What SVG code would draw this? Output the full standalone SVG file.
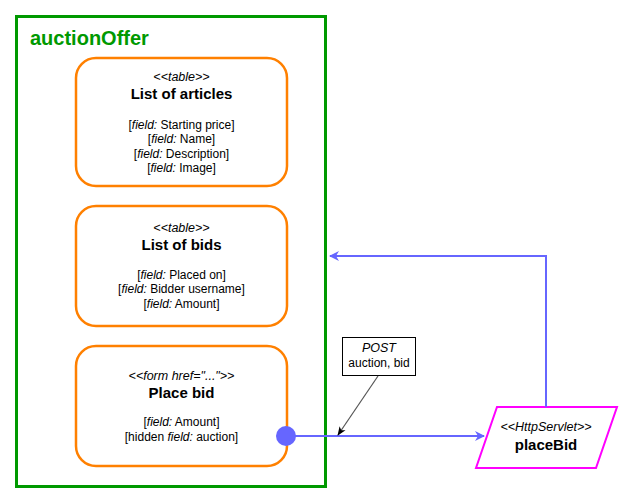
<svg xmlns="http://www.w3.org/2000/svg" width="633" height="503" viewBox="0 0 633 503">
<style>
text{font-family:"Liberation Sans",Arial,sans-serif;fill:#000;text-anchor:middle}
.st{font-size:12.5px;font-style:italic}
.ti{font-size:15px;font-weight:bold}
.f{font-size:12px}
.box{fill:#fff;stroke:#FF8000;stroke-width:2.5}
.flow{fill:none;stroke:#6666FF;stroke-width:2}
</style>
<defs>
<marker id="ab" viewBox="0 0 10 10" refX="9" refY="5" markerWidth="10" markerHeight="10" markerUnits="userSpaceOnUse" orient="auto">
<path d="M0,0 L10,5 L0,10 L3,5 Z" fill="#6666FF"/>
</marker>
<marker id="ak" viewBox="0 0 10 10" refX="9" refY="5" markerWidth="9" markerHeight="9" markerUnits="userSpaceOnUse" orient="auto">
<path d="M0,1 L10,5 L0,9 L2.5,5 Z" fill="#000"/>
</marker>
</defs>
<rect width="633" height="503" fill="#fff"/>
<g id="auctionOffer">
<rect x="16.5" y="16.5" width="309" height="470" fill="#fff" stroke="#009900" stroke-width="3"/>
<text x="30" y="45" style="font-size:20px;font-weight:bold;fill:#009900;text-anchor:start">auctionOffer</text>
</g>
<g id="listArticles">
<rect class="box" x="76" y="58" width="211" height="128" rx="20"/>
<text class="st" x="181.5" y="81">&lt;&lt;table&gt;&gt;</text>
<text class="ti" x="181.5" y="99">List of articles</text>
<text class="f" x="181.5" y="129">[<tspan font-style="italic">field:</tspan> Starting price]</text>
<text class="f" x="181.5" y="143">[<tspan font-style="italic">field:</tspan> Name]</text>
<text class="f" x="181.5" y="158">[<tspan font-style="italic">field:</tspan> Description]</text>
<text class="f" x="181.5" y="172">[<tspan font-style="italic">field:</tspan> Image]</text>
</g>
<g id="listBids">
<rect class="box" x="76" y="206" width="211" height="120" rx="20"/>
<text class="st" x="181.5" y="232">&lt;&lt;table&gt;&gt;</text>
<text class="ti" x="181.5" y="250">List of bids</text>
<text class="f" x="181.5" y="279">[<tspan font-style="italic">field:</tspan> Placed on]</text>
<text class="f" x="181.5" y="293">[<tspan font-style="italic">field:</tspan> Bidder username]</text>
<text class="f" x="181.5" y="308">[<tspan font-style="italic">field:</tspan> Amount]</text>
</g>
<g id="placeBidForm">
<rect class="box" x="76" y="346" width="211" height="120" rx="20"/>
<text class="st" x="181.5" y="380">&lt;&lt;form href="..."&gt;&gt;</text>
<text class="ti" x="181.5" y="398">Place bid</text>
<text class="f" x="181.5" y="426">[<tspan font-style="italic">field:</tspan> Amount]</text>
<text class="f" x="181.5" y="441">[hidden <tspan font-style="italic">field:</tspan> auction]</text>
</g>
<g id="placeBidServlet">
<polygon points="497,407 617,407 596,468 476,468" fill="#fff" stroke="#FF00FF" stroke-width="2"/>
<text class="st" x="546" y="431">&lt;&lt;HttpServlet&gt;&gt;</text>
<text class="ti" x="546" y="450">placeBid</text>
</g>
<g id="postLabel">
<rect x="342.5" y="337.5" width="73" height="38" fill="#fff" stroke="#000" stroke-width="1"/>
<text class="st" x="379" y="352">POST</text>
<text class="f" x="379" y="367">auction, bid</text>
</g>
<g id="connectors">
<line class="flow" x1="286" y1="436" x2="484" y2="436" marker-end="url(#ab)"/>
<polyline class="flow" points="546,407 546,256 330,256" marker-end="url(#ab)"/>
<line x1="378" y1="376" x2="338" y2="435" stroke="#555" stroke-width="1.2" marker-end="url(#ak)"/>
<circle cx="286" cy="436" r="10" fill="#6666FF"/>
</g>
</svg>
